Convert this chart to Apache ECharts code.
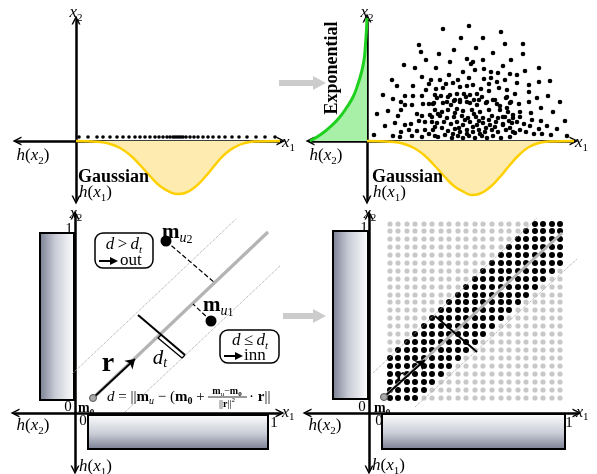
<!DOCTYPE html>
<html><head><meta charset="utf-8">
<script src="https://cdn.jsdelivr.net/npm/echarts@6/dist/echarts.min.js"></script>
<style>html,body{margin:0;padding:0;background:#fff}#c{width:597px;height:474px}</style>
</head><body><div id="c"></div><script>
// ---------- data (diagram units, origin at each panel's axis crossing) ----------
const p1AxisDotsX = [3,12,21,27,34,41,47,53,59,64,69,74,79,83,87,91,94,97,99,101,103,105,107,110,114,118,122,127,132,137,143,149,156,163,171,180,189,199];
const p1AxisDotsY = 4;
const gauss1 = [[0,0],[24,-1],[34,-3],[44,-7],[54,-14],[64,-24],[74,-35],[84,-45],[94,-51],[102,-53],[109,-52],[119,-46],[129,-36],[139,-24],[149,-13],[159,-6],[169,-2],[179,-0.5],[204,0]];
const gauss2 = [[0,0],[27,-1],[37,-3],[47,-7],[57,-14],[67,-24],[77,-35],[87,-45],[97,-51],[105,-54],[112,-53],[122,-47],[132,-37],[142,-25],[152,-14],[162,-6],[172,-2],[182,-0.5],[207,0]];
const expo2 = [[-57,0],[-47,6],[-37,14],[-28,23],[-20,34],[-14,44],[-10,54],[-6,67],[-3,81],[-1.5,97],[-0.5,112],[0,123]];
const scatter2 = [
[76,112],[102,115],[94,103],[52,96],[54,89],[87,91],[109,93],[72,87],[59,81],[100,82],[83,79],[37,76],[48,73],[69,73],[104,77],[96,69],[82,66],[55,64],[64,61],[73,61],[25,61],[91,61],[102,63],[30,55],[46,55],[62,57],[79,57],[86,58],[106,56],[59,51],[69,52],[76,53],[93,54],[100,55],[16,46],[26,42],[38,45],[46,45],[55,45],[68,46],[74,45],[83,46],[90,47],[97,47],[103,46],[34,39],[38,36],[45,36],[56,37],[62,37],[67,38],[80,39],[87,40],[93,41],[100,39],[107,41],[34,31],[10,27],[21,30],[50,27],[55,25],[63,26],[71,27],[31,25],[28,18],[18,15],[38,16],[44,17],[52,20],[58,19],[65,19],[68,14],[34,9],[42,11],[50,10],[58,11],[62,7],[7,6],[26,5],[33,4],[45,5],[55,4],[68,5],
[134,109],[116,103],[138,97],[156,97],[126,88],[156,87],[116,81],[144,81],[106,79],[136,75],[172,73],[117,72],[108,71],[124,69],[131,68],[143,67],[158,70],[150,66],[117,62],[124,63],[130,59],[138,61],[150,58],[162,56],[172,59],[183,60],[122,57],[114,52],[122,50],[132,53],[140,51],[148,47],[162,49],[110,47],[170,43],[181,45],[193,39],[112,41],[119,38],[126,41],[139,43],[144,39],[152,37],[162,39],[174,33],[186,29],[133,35],[140,33],[153,29],[164,28],[198,20],[174,20],[165,21],[153,24],[146,26],[190,12],[180,15],[172,12],[163,15],[157,17],[150,19],[142,20],[136,24],[200,5],[184,6],[175,7],[167,7],[159,9],[153,11],[148,8],[143,13],[136,16],
[70,43],[81,44],[88,41],[99,44],[115,44],[128,41],[140,44],[66,37],[76,38],[84,36],[93,39],[103,38],[110,36],[120,39],[130,37],[143,38],[68,31],[75,29],[81,31],[90,32],[96,30],[105,31],[113,29],[122,31],[133,31],[141,29],[65,24],[73,25],[80,23],[87,24],[95,25],[101,23],[109,24],[116,23],[125,25],[131,23],[138,24],[146,23],[70,18],[77,19],[84,17],[90,19],[96,16],[103,19],[110,16],[116,18],[123,16],[129,19],[136,17],[145,18],[66,11],[75,13],[81,10],[88,12],[93,9],[100,11],[106,9],[112,11],[118,9],[125,11],[131,9],[139,11],[146,9],[71,4],[78,6],[85,3],[91,5],[96,3],[102,5],[108,3],[115,5],[120,3],[126,5],[134,3],[143,4],
[98,21],[106,14],[112,20],[119,13],[92,13],[86,7],[100,7],[113,7],[122,21],[128,14],[107,27],[88,28]
];
// bottom panels: histogram boxes [x0,y0,x1,y1,vertical?]
const hist3 = [[-35,13,-1,180,1],[13,-2,193,-36,0]];
const hist4 = [[-36,14,-1,182,1],[13,-1,196,-36,0]];
const m0_3 = [18,15], diag3 = [[18,15],[193,181]], upper3 = [[-3,39],[161,194]], lower3 = [[50,1],[205,147]];
const perp3 = [[63,98],[110,58]], bracket3 = [[86,78],[83,75],[107,55],[110,58]], rArrow3 = [[18,15],[60,54]];
const mu2 = [91,172], mu2Foot = [140,130], mu1 = [136,92], mu1Foot = [118,109];
const m0_4 = [15,16], diag4 = [[15,16],[193,180]], upper4 = [[4,40],[168,195]], lower4 = [[46,6],[208,154]];
const perp4 = [[66,97],[108,61]], rArrow4 = [[15,16],[56,53]];
const latticeX = [21,29,38,46,55,63,72,80,89,97,106,114,123,132,140,149,157,166,174,183,191];
const latticeY = [15,23,31,39,47,55,63,71,79,87,95,103,111,118,126,134,142,150,158,166,174,182,189];
const bandHalf4 = 26;

// ---------- split lattice into inner / outer by distance to r ----------
const ddx = diag4[1][0]-diag4[0][0], ddy = diag4[1][1]-diag4[0][1], dL = Math.hypot(ddx,ddy);
const inner = [], outer = [];
latticeY.forEach(y => latticeX.forEach(x => {
  const d = Math.abs((x-diag4[0][0])*ddy - (y-diag4[0][1])*ddx)/dL;
  (d <= bandHalf4 ? inner : outer).push([x,y]);
}));

// ---------- helpers ----------
const F = '"Liberation Serif","DejaVu Serif",serif';
const chev = 'path://M0,10 L5,0 L10,10 L8.3,10 L5,3.6 L1.7,10 Z';
function rich(sz){
  const sub = Math.round(sz*0.66);
  return {
    i:{fontFamily:F,fontStyle:'italic',fontSize:sz,lineHeight:sz+4},
    r:{fontFamily:F,fontSize:sz,lineHeight:sz+4},
    b:{fontFamily:F,fontWeight:'bold',fontSize:sz,lineHeight:sz+4},
    s:{fontFamily:F,fontSize:sub,lineHeight:sub,verticalAlign:'bottom'},
    si:{fontFamily:F,fontStyle:'italic',fontSize:sub,lineHeight:sub,verticalAlign:'bottom'},
    ss:{fontFamily:F,fontSize:Math.round(sub*0.85),lineHeight:Math.round(sub*0.6),verticalAlign:'bottom'},
    bs:{fontFamily:F,fontWeight:'bold',fontSize:sub,lineHeight:sub,verticalAlign:'bottom'},
    sup:{fontFamily:F,fontSize:sub,lineHeight:sub,verticalAlign:'top'}
  };
}
function T(x,y,text,sz,align,extra){
  return Object.assign({type:'text',x:x,y:y,z:100,silent:true,
    style:{text:text,rich:rich(sz),align:align||'center',verticalAlign:'middle',fill:'#000'}}, extra||{});
}
function ax(grid, min, max){
  return {type:'value',gridIndex:grid,min:min,max:max,
    axisLine:{show:true,onZero:true,symbol:[chev,chev],symbolSize:[11,9],lineStyle:{color:'#000',width:2.5}},
    axisTick:{show:false},axisLabel:{show:false},splitLine:{show:false}};
}
function seg(idx, data, color, width, type, z){
  return {type:'line',xAxisIndex:idx,yAxisIndex:idx,data:data,symbol:'none',silent:true,z:z||3,
    lineStyle:{color:color,width:width,type:type||'solid'}};
}
function arrowSeries(idx, pts){
  return {type:'lines',coordinateSystem:'cartesian2d',xAxisIndex:idx,yAxisIndex:idx,z:6,silent:true,
    symbol:['none','arrow'],symbolSize:9,
    lineStyle:{color:'#000',width:1.8,opacity:1},
    data:[{coords:pts}]};
}
function histSeries(idx, rects){
  return {type:'custom',xAxisIndex:idx,yAxisIndex:idx,clip:false,silent:true,z:1,data:rects,
    renderItem:function(params, api){
      const p0 = api.coord([api.value(0),api.value(1)]);
      const p1 = api.coord([api.value(2),api.value(3)]);
      const vert = api.value(4) === 1;
      const grad = vert
        ? new echarts.graphic.LinearGradient(0,0,1,0,[{offset:0,color:'#767c90'},{offset:0.45,color:'#c9ccd6'},{offset:1,color:'#ffffff'}])
        : new echarts.graphic.LinearGradient(0,0,0,1,[{offset:0,color:'#ffffff'},{offset:0.55,color:'#c9ccd6'},{offset:1,color:'#767c90'}]);
      return {type:'rect',shape:{x:Math.min(p0[0],p1[0]),y:Math.min(p0[1],p1[1]),width:Math.abs(p1[0]-p0[0]),height:Math.abs(p1[1]-p0[1])},
        style:{fill:grad,stroke:'#000',lineWidth:2}};
    }};
}
function m0Series(idx, p){
  return {type:'scatter',xAxisIndex:idx,yAxisIndex:idx,data:[p],symbolSize:7,z:7,silent:true,
    itemStyle:{color:'#a8a8a8',borderColor:'#555',borderWidth:1,opacity:1}};
}
function dots(idx, data, size, color, z){
  return {type:'scatter',xAxisIndex:idx,yAxisIndex:idx,data:data,symbolSize:size,silent:true,z:z||4,
    itemStyle:{color:color,opacity:1}};
}

const option = {
  animation:false,
  grid:[
    {left:17,top:20,width:264,height:180},
    {left:310,top:18,width:264,height:182},
    {left:15,top:215,width:265,height:255},
    {left:307,top:215,width:270,height:255}
  ],
  xAxis:[ax(0,-59,205),ax(1,-57,207),ax(2,-60,205),ax(3,-62,208)],
  yAxis:[ax(0,-59,121),ax(1,-59,123),ax(2,-57,198),ax(3,-57,198)],
  series:[
    // panel 1
    {type:'line',xAxisIndex:0,yAxisIndex:0,data:gauss1,smooth:true,symbol:'none',silent:true,z:2,
      lineStyle:{color:'#ffd000',width:2.5},areaStyle:{color:'#fdebb0',opacity:1}},
    dots(0, p1AxisDotsX.map(x=>[x,p1AxisDotsY]), 3.6, '#000'),
    // panel 2
    {type:'line',xAxisIndex:1,yAxisIndex:1,data:gauss2,smooth:true,symbol:'none',silent:true,z:2,
      lineStyle:{color:'#ffd000',width:2.5},areaStyle:{color:'#fdebb0',opacity:1}},
    {type:'line',xAxisIndex:1,yAxisIndex:1,data:expo2,smooth:true,symbol:'none',silent:true,z:2,
      lineStyle:{color:'#1fd11f',width:3},areaStyle:{color:'#a8f0a8',opacity:1}},
    dots(1, scatter2, 4.6, '#000'),
    // panel 3
    histSeries(2,hist3),
    seg(2,upper3,'#a0a0a0',1,'dotted'),
    seg(2,lower3,'#a0a0a0',1,'dotted'),
    seg(2,diag3,'#b4b4b4',3.2),
    seg(2,perp3,'#000',2,'solid',5),
    seg(2,bracket3,'#000',1.3,'solid',5),
    seg(2,[mu2,mu2Foot],'#000',1.2,'dashed',5),
    seg(2,[mu1,mu1Foot],'#000',1.2,'dashed',5),
    arrowSeries(2,rArrow3),
    dots(2, [mu2,mu1], 11, '#000', 6),
    m0Series(2,m0_3),
    // panel 4
    histSeries(3,hist4),
    dots(3, outer, 5.2, '#c8c8c8', 2),
    dots(3, inner, 6, '#000', 2),
    seg(3,upper4,'#a0a0a0',1,'dotted'),
    seg(3,lower4,'#a0a0a0',1,'dotted'),
    seg(3,diag4,'#b4b4b4',3),
    seg(3,perp4,'#000',2,'solid',5),
    arrowSeries(3,rArrow4),
    m0Series(3,m0_4)
  ],
  graphic:[
    // gray transition arrows
    {type:'polygon',z:50,silent:true,shape:{points:[[279,80],[313,80],[313,76],[326,83],[313,90],[313,86],[279,86]]},style:{fill:'#cccccc'}},
    {type:'polygon',z:50,silent:true,shape:{points:[[283,313],[313,313],[313,309],[326,316],[313,323],[313,319],[283,319]]},style:{fill:'#cccccc'}},
    // panel 1 labels
    T(76,13,'{i|x}{s|2}',17),
    T(282,143,'{i|x}{s|1}',17,'left'),
    T(33,156,'{i|h}{r|(}{i|x}{s|2}{r|)}',17),
    T(78,177,'{b|Gaussian}',18,'left'),
    T(79,193,'{i|h}{r|(}{i|x}{s|1}{r|)}',17,'left'),
    // panel 2 labels
    T(367,13,'{i|x}{s|2}',17),
    T(575,143,'{i|x}{s|1}',17,'left'),
    T(326,156,'{i|h}{r|(}{i|x}{s|2}{r|)}',17),
    T(372,177,'{b|Gaussian}',18,'left'),
    T(373,193,'{i|h}{r|(}{i|x}{s|1}{r|)}',17,'left'),
    T(332,68,'{b|Exponential}',18,'center',{rotation:Math.PI/2}),
    // panel 3 labels
    T(76,214,'{i|x}{s|2}',16),
    T(69,229,'{r|1}',15),
    T(68,407,'{r|0}',15),
    T(78,408,'{b|m}{bs|0}',14,'left'),
    T(83,421,'{r|0}',15),
    T(274,423,'{r|1}',15),
    T(282,413,'{i|x}{s|1}',16,'left'),
    T(33,426,'{i|h}{r|(}{i|x}{s|2}{r|)}',17),
    T(79,467,'{i|h}{r|(}{i|x}{s|1}{r|)}',17,'left'),
    T(162,233,'{b|m}{si|u}{ss|2}',21,'left'),
    T(203,306,'{b|m}{si|u}{ss|1}',21,'left'),
    T(108,364,'{b|r}',28),
    T(160,358,'{i|d}{si|t}',21),
    {type:'rect',z:60,silent:true,shape:{x:95,y:233,width:58,height:35,r:8},style:{fill:'#fff',stroke:'#000',lineWidth:1.5}},
    T(124,245,'{i|d} {r|>} {i|d}{si|t}',17,'center',{z:61}),
    {type:'polygon',z:61,silent:true,shape:{points:[[99,260],[110,260],[110,257],[118,261],[110,265],[110,262],[99,262]]},style:{fill:'#000'}},
    T(120,261,'{r|out}',17,'left',{z:61}),
    {type:'rect',z:60,silent:true,shape:{x:220,y:330,width:59,height:33,r:8},style:{fill:'#fff',stroke:'#000',lineWidth:1.5}},
    T(250,341,'{i|d} {r|≤} {i|d}{si|t}',17,'center',{z:61}),
    {type:'polygon',z:61,silent:true,shape:{points:[[224,355],[235,355],[235,352],[243,356],[235,360],[235,357],[224,357]]},style:{fill:'#000'}},
    T(244,356,'{r|inn}',17,'left',{z:61}),
    // formula
    T(107,397,'{i|d}{r| = ||}{b|m}{si|u}{r| − (}{b|m}{bs|0}{r| + }',15,'left'),
    T(227,391,'{b|m}{si|u}{r|−}{b|m}{bs|0}',10),
    {type:'line',z:100,silent:true,shape:{x1:208,y1:397,x2:247,y2:397},style:{stroke:'#000',lineWidth:0.8}},
    T(227,404,'{r|||}{b|r}{r|||}{sup|2}',10),
    T(249,397,'{r|· }{b|r}{r|||}',15,'left'),
    // panel 4 labels
    T(370,214,'{i|x}{s|2}',16),
    T(364,228,'{r|1}',15),
    T(362,407,'{r|0}',15),
    T(374,408,'{b|m}{bs|0}',14,'left'),
    T(379,421,'{r|0}',15),
    T(569,423,'{r|1}',15),
    T(576,413,'{i|x}{s|1}',16,'left'),
    T(325,426,'{i|h}{r|(}{i|x}{s|2}{r|)}',17),
    T(372,466,'{i|h}{r|(}{i|x}{s|1}{r|)}',17,'left'),
    T(400,376,'{b|r}',19)
  ]
};
const chart = echarts.init(document.getElementById('c'), null, {renderer:'canvas'});
chart.setOption(option);
</script></body></html>
